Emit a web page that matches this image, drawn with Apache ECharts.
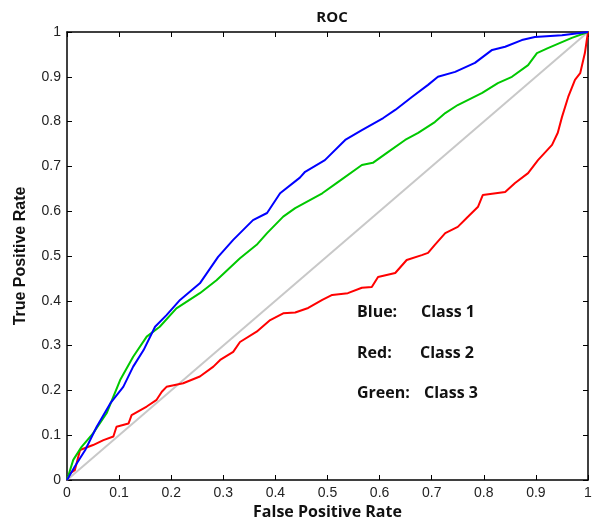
<!DOCTYPE html>
<html><head><meta charset="utf-8">
<script src="https://cdn.jsdelivr.net/npm/echarts@6/dist/echarts.min.js"></script>
<style>html,body{margin:0;padding:0;background:#fff}#c{width:595px;height:519px}</style>
</head><body><div id="c"></div>
<script>
const tickLabels = ['0','0.1','0.2','0.3','0.4','0.5','0.6','0.7','0.8','0.9','1'];
const blueFpr = [0,0.015,0.035,0.057,0.083,0.108,0.127,0.147,0.169,0.191,0.217,0.255,0.29,0.319,0.357,0.384,0.409,0.447,0.457,0.495,0.534,0.566,0.607,0.63,0.662,0.693,0.712,0.745,0.783,0.816,0.841,0.873,0.898,0.95,1];
const blueTpr = [0,0.03,0.067,0.119,0.171,0.208,0.253,0.29,0.342,0.368,0.402,0.439,0.498,0.536,0.58,0.596,0.64,0.675,0.688,0.714,0.759,0.781,0.808,0.826,0.855,0.882,0.9,0.911,0.931,0.96,0.967,0.982,0.989,0.993,1];
const redFpr = [0,0.006,0.015,0.025,0.05,0.07,0.089,0.095,0.118,0.124,0.153,0.172,0.182,0.191,0.223,0.255,0.281,0.294,0.319,0.332,0.364,0.39,0.415,0.438,0.463,0.49,0.509,0.539,0.566,0.585,0.597,0.63,0.652,0.681,0.693,0.706,0.726,0.75,0.77,0.789,0.798,0.841,0.86,0.885,0.904,0.931,0.942,0.95,0.962,0.975,0.985,0.994,1];
const redTpr = [0,0.015,0.022,0.067,0.078,0.089,0.097,0.119,0.126,0.145,0.164,0.179,0.197,0.208,0.216,0.231,0.253,0.268,0.286,0.308,0.331,0.357,0.372,0.374,0.384,0.402,0.413,0.417,0.429,0.431,0.453,0.462,0.491,0.502,0.507,0.525,0.551,0.565,0.588,0.61,0.636,0.643,0.663,0.685,0.714,0.748,0.775,0.81,0.855,0.893,0.908,0.953,1];
const greenFpr = [0,0.012,0.028,0.05,0.076,0.102,0.127,0.153,0.178,0.21,0.255,0.287,0.332,0.364,0.384,0.415,0.438,0.49,0.52,0.566,0.587,0.616,0.649,0.674,0.706,0.726,0.75,0.797,0.827,0.854,0.885,0.902,0.923,0.969,1];
const greenTpr = [0,0.045,0.074,0.104,0.149,0.223,0.275,0.32,0.342,0.383,0.417,0.446,0.495,0.525,0.551,0.588,0.607,0.64,0.665,0.703,0.708,0.732,0.759,0.775,0.799,0.819,0.837,0.864,0.886,0.9,0.926,0.953,0.964,0.987,1];
const diagFpr = [0,1];
const diagTpr = [0,1];
const legendLines = [['Blue:','Class 1'],['Red:','Class 2'],['Green:','Class 3']];

const zip = (a,b)=>a.map((v,i)=>[v,b[i]]);
const chart = echarts.init(document.getElementById('c'), null, {renderer:'canvas'});
const axisCommon = {
  type:'value', min:0, max:1, interval:0.1,
  axisLine:{show:true,onZero:false,lineStyle:{color:'#000',width:1.5}},
  axisTick:{show:true,inside:true,length:5,lineStyle:{color:'#000',width:1}},
  splitLine:{show:false}
};
const lbl = {fontFamily:'Liberation Sans, Arial',fontSize:14,color:'#222',formatter:v=>tickLabels[Math.round(v*10)]};
const lineS = (name,data,color,w,z)=>({name,type:'line',data,showSymbol:false,symbol:'none',lineStyle:{color,width:w},itemStyle:{color},z,silent:true,animation:false});
const graphics = [];
const ys=[315,356,396]; const xs=[421,420,424];
legendLines.forEach((l,i)=>{
  graphics.push({type:'text',left:357,top:ys[i]-11,style:{text:l[0],font:'bold 16px "Open Sans"',fill:'#111'}});
  graphics.push({type:'text',left:xs[i],top:ys[i]-11,style:{text:l[1],font:'bold 16px "Open Sans"',fill:'#111'}});
});
chart.setOption({
  animation:false,
  title:{text:'ROC',left:327,top:5,textAlign:'center',textStyle:{fontFamily:'Open Sans',fontWeight:'bold',fontSize:15,color:'#111'}},
  grid:{left:67,top:32,right:7,bottom:39,containLabel:false,outerBoundsMode:'none'},
  xAxis:[
    Object.assign({},axisCommon,{position:'bottom',name:'False Positive Rate',nameLocation:'middle',nameGap:22,
      nameTextStyle:{fontFamily:'Open Sans',fontWeight:'bold',fontSize:16,color:'#111'},axisLabel:Object.assign({margin:6},lbl)}),
    Object.assign({},axisCommon,{position:'top',axisLabel:{show:false}})
  ],
  yAxis:[
    Object.assign({},axisCommon,{position:'left',name:'True Positive Rate',nameLocation:'middle',nameGap:38,nameRotate:90,
      nameTextStyle:{fontFamily:'Liberation Sans, Arial',fontWeight:'bold',fontSize:16,color:'#111'},axisLabel:Object.assign({margin:6},lbl)}),
    Object.assign({},axisCommon,{position:'right',axisLabel:{show:false}})
  ],
  series:[
    lineS('diag',zip(diagFpr,diagTpr),'#c8c8c8',2,1),
    lineS('Class 2',zip(redFpr,redTpr),'#ff0000',2,3),
    lineS('Class 3',zip(greenFpr,greenTpr),'#00c800',2,4),
    lineS('Class 1',zip(blueFpr,blueTpr),'#0000ff',2,5)
  ],
  graphic:graphics
});
</script></body></html>
